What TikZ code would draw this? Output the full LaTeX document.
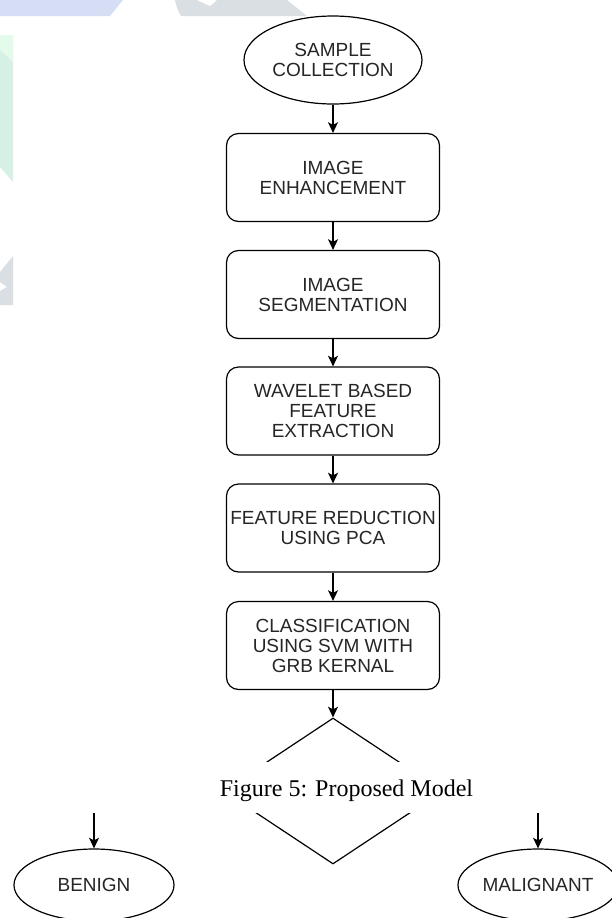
\documentclass[tikz,border=0pt]{standalone}
\usepackage{fontspec}
\setmainfont{Liberation Serif}
\newfontfamily\flowfont{Liberation Sans}
\usetikzlibrary{shapes.geometric,arrows.meta}

\tikzset{
	stepbox/.style={draw, rounded corners=9pt, line width=0.9pt, minimum width=159.75pt, minimum height=66pt, inner sep=0pt, align=center, text=black!85, font=\flowfont\fontsize{14.25}{15}\selectfont},
	terminal/.style={draw, ellipse, line width=0.9pt, inner sep=0pt, align=center, text=black!85, font=\flowfont\fontsize{14.25}{15}\selectfont},
	flowarrow/.style={-{Stealth[length=8pt,width=7.5pt,inset=2pt]}, line width=0.9pt},
}

\begin{document}
\begin{tikzpicture}[x=0.75pt,y=0.75pt,yscale=-1,xscale=1]
	\useasboundingbox (0,0) rectangle (611,918);
	\fill[white] (0,0) rectangle (611,918);
	
	%Watermark pieces
	\fill [color={rgb, 255:red, 214; green, 222; blue, 246 }] (0,0) -- (123,0) -- (110,16) -- (0,16) -- cycle ;
	\fill [color={rgb, 255:red, 217; green, 223; blue, 227 }] (175,0) .. controls (176,6) and (178,11) .. (181,16) -- (307,16) -- (287,0) -- cycle ;
	\fill [white] (197,0) -- (217,0) -- (210,6) -- cycle ;
	\fill [color={rgb, 255:red, 214; green, 240; blue, 229 }] (0,35) -- (13,35) -- (13,182) -- (0,167) -- cycle ;
	\fill [color={rgb, 255:red, 227; green, 251; blue, 235 }] (0,35) -- (13,35) -- (13,62) -- (0,50) -- cycle ;
	\fill [color={rgb, 255:red, 217; green, 223; blue, 227 }] (0,272) -- (13,256) -- (13,305) -- (0,305) -- (0,291) -- (7,287) -- (0,282) -- cycle ;
	
	%Flowchart: Terminator
	\node [terminal, minimum width=133.5pt, minimum height=66pt] (collect) at (333,60) {SAMPLE\\COLLECTION};
	%Flowchart: Process
	\node [stepbox] (enhance) at (333,177.5) {IMAGE\\ENHANCEMENT};
	\node [stepbox] (segment) at (333,294.5) {IMAGE\\SEGMENTATION};
	\node [stepbox] (extract) at (333,411) {WAVELET BASED\\FEATURE\\EXTRACTION};
	\node [stepbox] (reduce) at (333,528) {FEATURE REDUCTION\\USING PCA};
	\node [stepbox] (classify) at (333,645.5) {CLASSIFICATION\\USING SVM WITH\\GRB KERNAL};
	%Flowchart: Decision
	\node [draw, diamond, line width=0.9pt, inner sep=0pt, minimum width=165pt, minimum height=109.5pt] (decide) at (333,791) {};
	%Flowchart: Terminator
	\node [terminal, minimum width=120pt, minimum height=54pt] (benign) at (94,885) {BENIGN};
	\node [terminal, minimum width=120pt, minimum height=54pt] (malignant) at (538,885) {MALIGNANT};
	
	%Straight Lines
	\draw [flowarrow] (collect) -- (enhance);
	\draw [flowarrow] (enhance) -- (segment);
	\draw [flowarrow] (segment) -- (extract);
	\draw [flowarrow] (extract) -- (reduce);
	\draw [flowarrow] (reduce) -- (classify);
	\draw [flowarrow] (classify) -- (decide);
	\draw [flowarrow] (decide.west) -| (benign);
	\draw [flowarrow] (decide.east) -| (malignant);
	
	%Caption band
	\fill [white] (0,762) rectangle (611,813);
	% Text Node
	\node [anchor=base, inner sep=0pt, font=\fontsize{18}{21}\selectfont] (caption) at (346.5,796.5) {Figure 5: Proposed Model};
\end{tikzpicture}
\end{document}
